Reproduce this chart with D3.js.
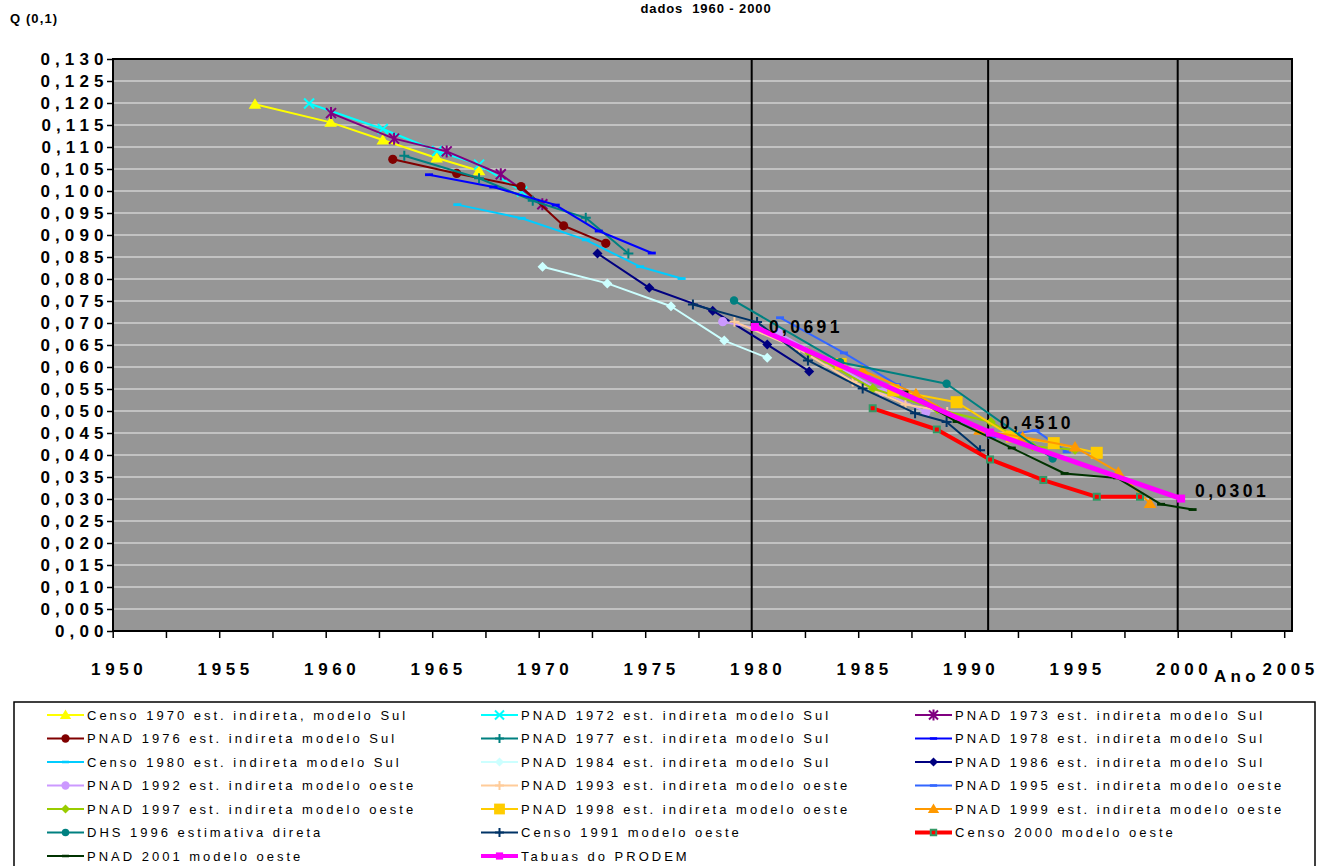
<!DOCTYPE html>
<meta charset="utf-8">
<style>
body { margin: 0; background: #fff; }
text { font-family: Arial, "Liberation Sans", sans-serif; fill: #000; }
.axis path { display: none; }
.axis line { stroke: #000; stroke-width: 1.5px; }
.axis text { font-size: 17px; font-weight: bold; letter-spacing: 4.6px; }
.y-axis text { letter-spacing: 5.1px; }
.legend-text { font-size: 13px; letter-spacing: 3px; }
.data-label { font-size: 17.5px; font-weight: bold; letter-spacing: 3.4px; }
</style>
<body>
<script src="https://d3js.org/d3.v7.min.js"></script>
<script>

// valores: [ano, Q(0,1)]
var censo1970  = [[1956.68,0.1197],[1960.23,0.1156],[1962.68,0.1116],[1965.21,0.1075],[1967.20,0.1046]];
var pnad1972   = [[1959.22,0.1199],[1962.68,0.1141],[1965.23,0.1091],[1967.20,0.1060],[1969.22,0.0999]];
var pnad1973   = [[1960.25,0.1177],[1963.21,0.1119],[1965.68,0.1090],[1968.22,0.1038],[1970.17,0.0970]];
var pnad1976   = [[1963.15,0.1072],[1966.15,0.1040],[1969.17,0.1010],[1971.17,0.0921],[1973.15,0.0881]];
var pnad1977   = [[1963.69,0.1080],[1967.20,0.1029],[1969.72,0.0978],[1972.21,0.0939],[1974.21,0.0858]];
var pnad1978   = [[1964.85,0.1037],[1967.87,0.1009],[1970.80,0.0968],[1972.82,0.0909],[1975.31,0.0859]];
var censo1980  = [[1966.18,0.0969],[1969.20,0.0938],[1972.21,0.0889],[1974.76,0.0828],[1976.71,0.0801]];
var pnad1984   = [[1970.18,0.0828],[1973.22,0.0790],[1976.21,0.0738],[1978.71,0.0660],[1980.73,0.0621]];
var pnad1986   = [[1972.76,0.0858],[1975.19,0.0780],[1978.17,0.0728],[1980.73,0.0651],[1982.70,0.0590]];
var pnad1992   = [[1978.64,0.0703],[1981.25,0.0678],[1983.68,0.0611],[1986.15,0.0543],[1988.18,0.0498]];
var pnad1993   = [[1979.19,0.0703],[1982.23,0.0640],[1984.74,0.0567],[1987.22,0.0515],[1989.18,0.0498]];
var pnad1995   = [[1981.33,0.0712],[1984.33,0.0632],[1986.82,0.0560],[1989.31,0.0490],[1991.27,0.0440],[1993.33,0.0456],[1994.79,0.0407]];
var pnad1997   = [[1982.70,0.0632],[1985.68,0.0551],[1988.71,0.0504],[1991.23,0.0475],[1993.19,0.0420],[1995.18,0.0412]];
var pnad1998   = [[1984.18,0.0607],[1986.65,0.0547],[1989.62,0.0520],[1992.21,0.0442],[1994.18,0.0427],[1996.20,0.0405]];
var pnad1999   = [[1985.21,0.0592],[1987.71,0.0539],[1990.69,0.0456],[1992.72,0.0441],[1995.18,0.0418],[1997.21,0.0361],[1998.70,0.0290]];
var dhs1996    = [[1979.17,0.0751],[1984.15,0.0611],[1989.15,0.0562],[1994.13,0.0392]];
var censo1991  = [[1977.24,0.0742],[1980.25,0.0702],[1982.64,0.0615],[1985.21,0.0551],[1987.67,0.0495],[1989.15,0.0475],[1990.72,0.0411]];
var censo2000  = [[1985.68,0.0506],[1988.69,0.0458],[1991.19,0.0390],[1993.69,0.0343],[1996.20,0.0305],[1998.23,0.0305]];
var pnad2001   = [[1987.17,0.0543],[1989.62,0.0476],[1992.21,0.0416],[1994.69,0.0358],[1997.16,0.0348],[1999.22,0.0288],[2000.70,0.0276]];
var prodem     = [[1980.15,0.0691],[1991.19,0.0451],[2000.16,0.0301]];

// rotulos dos pontos do PRODEM (como no original)
var prodemLabels = ["0,0691", "0,4510", "0,0301"];

// linhas verticais de referencia
var refLines = [1980, 1991.1, 2000];

var xTicks = [1950, 1955, 1960, 1965, 1970, 1975, 1980, 1985, 1990, 1995, 2000, 2005];
var yTicks = [0, 0.005, 0.010, 0.015, 0.020, 0.025, 0.030, 0.035, 0.040, 0.045, 0.050, 0.055, 0.060,
              0.065, 0.070, 0.075, 0.080, 0.085, 0.090, 0.095, 0.100, 0.105, 0.110, 0.115, 0.120, 0.125, 0.130];

var series = [
    {name: "Censo 1970 est. indireta, modelo Sul", data: censo1970, color: "#FFFF00", marker: "triangle", w: 2},
    {name: "PNAD 1972 est. indireta modelo Sul", data: pnad1972, color: "#00FFFF", marker: "x", w: 2},
    {name: "PNAD 1973 est. indireta modelo Sul", data: pnad1973, color: "#800080", marker: "star", w: 2},
    {name: "PNAD 1976 est. indireta modelo Sul", data: pnad1976, color: "#800000", marker: "circle", w: 2},
    {name: "PNAD 1977 est. indireta modelo Sul", data: pnad1977, color: "#008080", marker: "plus", w: 2},
    {name: "PNAD 1978 est. indireta modelo Sul", data: pnad1978, color: "#0000FF", marker: "dash", w: 2},
    {name: "Censo 1980 est. indireta modelo Sul", data: censo1980, color: "#00CCFF", marker: "dash", w: 2},
    {name: "PNAD 1984 est. indireta modelo Sul", data: pnad1984, color: "#CCFFFF", marker: "diamond", w: 2},
    {name: "PNAD 1986 est. indireta modelo Sul", data: pnad1986, color: "#000080", marker: "diamond", w: 2},
    {name: "PNAD 1992 est. indireta modelo oeste", data: pnad1992, color: "#CC99FF", marker: "circle", w: 2},
    {name: "PNAD 1993 est. indireta modelo oeste", data: pnad1993, color: "#FFCC99", marker: "plus", w: 2},
    {name: "PNAD 1995 est. indireta modelo oeste", data: pnad1995, color: "#3366FF", marker: "dash", w: 2},
    {name: "PNAD 1997 est. indireta modelo oeste", data: pnad1997, color: "#99CC00", marker: "diamond", w: 2},
    {name: "PNAD 1998 est. indireta modelo oeste", data: pnad1998, color: "#FFCC00", marker: "square", w: 2},
    {name: "PNAD 1999 est. indireta modelo oeste", data: pnad1999, color: "#FF9900", marker: "triangle", w: 2},
    {name: "DHS 1996 estimativa direta", data: dhs1996, color: "#008080", marker: "smallcircle", w: 2},
    {name: "Censo 1991 modelo oeste", data: censo1991, color: "#003366", marker: "plus", w: 2},
    {name: "Censo 2000 modelo oeste", data: censo2000, color: "#FF0000", marker: "greensquare", w: 4},
    {name: "PNAD 2001 modelo oeste", data: pnad2001, color: "#003300", marker: "dash", w: 2},
    {name: "Tabuas do PRODEM", data: prodem, color: "#FF00FF", marker: "msquare", w: 5}
];

var x = d3.scaleLinear().domain([1950, 2005]).range([112.7, 1284.2]);
var y = d3.scaleLinear().domain([0, 0.130]).range([631, 59]);

var svg = d3.select("body").append("svg")
    .attr("width", 1330)
    .attr("height", 866);

// area do grafico
svg.append("rect")
    .attr("x", 113).attr("y", 59)
    .attr("width", 1179).attr("height", 572)
    .attr("fill", "#969696");

svg.append("g").selectAll("line")
    .data(yTicks.filter(function(d) { return d > 0 && d < 0.13; }))
    .enter().append("line")
    .attr("x1", 113).attr("x2", 1292)
    .attr("y1", function(d) { return y(d); })
    .attr("y2", function(d) { return y(d); })
    .attr("stroke", "#d0d0d0")
    .attr("stroke-width", 1.6);

svg.append("g").selectAll("line")
    .data(refLines)
    .enter().append("line")
    .attr("x1", function(d) { return x(d); })
    .attr("x2", function(d) { return x(d); })
    .attr("y1", y(0.130)).attr("y2", y(0))
    .attr("stroke", "#000")
    .attr("stroke-width", 2);

svg.append("rect")
    .attr("x", 113).attr("y", 59)
    .attr("width", 1179).attr("height", 572)
    .attr("fill", "none")
    .attr("stroke", "#000")
    .attr("stroke-width", 2);

// eixos
var fmtY = function(d) { return d === 0 ? "0,00" : d3.format(".3f")(d).replace(".", ","); };

var gY = svg.append("g")
    .attr("class", "axis y-axis")
    .attr("transform", "translate(113,0)")
    .call(d3.axisLeft(y).tickValues(yTicks).tickFormat(fmtY).tickSize(6).tickPadding(0));
gY.selectAll("text").attr("dx", "1.5px");

var xMinor = d3.range(0, 23).map(function(i) { return 1950 + i * 2.5; });
var gX = svg.append("g")
    .attr("class", "axis")
    .attr("transform", "translate(0,631)")
    .call(d3.axisBottom(x).tickValues(xMinor).tickSize(7).tickPadding(25)
        .tickFormat(function(d) { return xTicks.indexOf(d) >= 0 ? d : ""; }));
gX.selectAll("text").attr("dx", "6px");

// marcadores
function markerPath(type, s) {
    switch (type) {
        case "triangle": return "M0," + (-s) + "L" + (s * 1.05) + "," + (s * 0.75) + "L" + (-s * 1.05) + "," + (s * 0.75) + "Z";
        case "x": return "M" + (-s) + "," + (-s) + "L" + s + "," + s + "M" + (-s) + "," + s + "L" + s + "," + (-s);
        case "star": return "M" + (-s) + "," + (-s) + "L" + s + "," + s + "M" + (-s) + "," + s + "L" + s + "," + (-s) + "M0," + (-s * 1.2) + "V" + (s * 1.2);
        case "plus": return "M" + (-s) + ",0H" + s + "M0," + (-s) + "V" + s;
        case "diamond": return "M0," + (-s) + "L" + s + ",0L0," + s + "L" + (-s) + ",0Z";
        case "dash": return "M" + (-s) + "," + (-s * 0.35) + "H" + s + "V" + (s * 0.35) + "H" + (-s) + "Z";
        case "square": case "msquare": case "greensquare":
            return "M" + (-s) + "," + (-s) + "H" + s + "V" + s + "H" + (-s) + "Z";
        default: return d3.symbol(d3.symbolCircle, Math.PI * s * s)();
    }
}
var markerSize = {triangle: 6, x: 5, star: 5, plus: 5, diamond: 5, dash: 4, square: 6, msquare: 4, greensquare: 3, circle: 4.6, smallcircle: 4.2};
var stroked = {x: 1, star: 1, plus: 1};

function drawMarker(g, s, size) {
    var type = s.marker;
    if (type === "greensquare") {
        g.append("path").attr("d", markerPath("square", size))
            .attr("fill", "#FF0000").attr("stroke", "#339966").attr("stroke-width", 2);
        return;
    }
    if (stroked[type]) {
        g.append("path").attr("d", markerPath(type, size))
            .attr("fill", "none").attr("stroke", s.color).attr("stroke-width", 2);
    } else {
        g.append("path").attr("d", markerPath(type, size)).attr("fill", s.color);
    }
}

var line = d3.line()
    .x(function(d) { return x(d[0]); })
    .y(function(d) { return y(d[1]); });

var plot = svg.append("g");
series.forEach(function(s) {
    var g = plot.append("g");
    g.append("path")
        .datum(s.data)
        .attr("fill", "none")
        .attr("stroke", s.color)
        .attr("stroke-width", s.w)
        .attr("stroke-linejoin", "round")
        .attr("d", line);
    s.data.forEach(function(d) {
        var m = g.append("g").attr("transform", "translate(" + x(d[0]) + "," + y(d[1]) + ")");
        drawMarker(m, s, markerSize[s.marker]);
    });
});

// rotulos de dados
var labelDx = [14, 10, 14], labelDy = [6, -4, -2];
svg.append("g").selectAll("text")
    .data(prodem)
    .enter().append("text")
    .attr("class", "data-label")
    .attr("x", function(d, i) { return x(d[0]) + labelDx[i]; })
    .attr("y", function(d, i) { return y(d[1]) + labelDy[i]; })
    .text(function(d, i) { return prodemLabels[i]; });

// titulos
svg.append("text")
    .attr("x", 706).attr("y", 13)
    .attr("text-anchor", "middle")
    .style("font-size", "13px").style("font-weight", "bold").style("letter-spacing", "0.9px")
    .style("white-space", "pre")
    .text("dados  1960 - 2000");

svg.append("text")
    .attr("x", 10).attr("y", 23)
    .style("font-size", "13px").style("font-weight", "bold").style("letter-spacing", "1.1px")
    .text("Q (0,1)");

svg.append("text")
    .attr("x", 1214).attr("y", 682)
    .style("font-size", "17px").style("font-weight", "bold").style("letter-spacing", "4.3px")
    .text("Ano");

// legenda
svg.append("rect")
    .attr("x", 14).attr("y", 702)
    .attr("width", 1301).attr("height", 180)
    .attr("fill", "#fff")
    .attr("stroke", "#000")
    .attr("stroke-width", 1.5);

var colX = [47, 481, 915];
var legend = svg.append("g").selectAll("g")
    .data(series)
    .enter().append("g")
    .attr("transform", function(d, i) {
        return "translate(" + colX[i % 3] + "," + (715 + Math.floor(i / 3) * 23.5) + ")";
    });

legend.append("line")
    .attr("x1", 0).attr("x2", 37)
    .attr("stroke", function(d) { return d.color; })
    .attr("stroke-width", function(d) { return d.w > 2 ? 4 : 2; });

legend.each(function(d) {
    var g = d3.select(this).append("g").attr("transform", "translate(18.5,0)");
    drawMarker(g, d, markerSize[d.marker] * 0.9);
});

legend.append("text")
    .attr("class", "legend-text")
    .attr("x", 40)
    .attr("dy", "0.35em")
    .text(function(d) { return d.name; });

</script>
</body>
